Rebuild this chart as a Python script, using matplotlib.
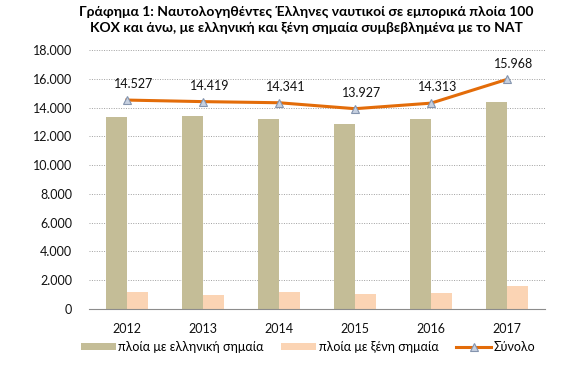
import numpy as np
import matplotlib.pyplot as plt
from matplotlib.ticker import FuncFormatter

years = ["2012", "2013", "2014", "2015", "2016", "2017"]
greek_flag = [13327, 13449, 13181, 12857, 13198, 14388]
foreign_flag = [1200, 970, 1160, 1070, 1115, 1580]
total = [14527, 14419, 14341, 13927, 14313, 15968]

labels = ["πλοία με ελληνική σημαία", "πλοία με ξένη σημαία", "Σύνολο"]
title = ("Γράφημα 1: Ναυτολογηθέντες Έλληνες ναυτικοί σε εμπορικά πλοία 100\n"
         "ΚΟΧ και άνω, με ελληνική και ξένη σημαία συμβεβλημένα με το ΝΑΤ")


def dotted_thousands(v, pos=None):
    return f"{int(round(v)):,}".replace(",", ".")


plt.rcParams["font.family"] = ["Lato", "DejaVu Sans"]

fig = plt.figure(figsize=(5.62, 3.66), dpi=100)
ax = fig.add_axes([0.158, 0.156, 0.812, 0.707])

x = np.arange(len(years))
w = 0.28
b1 = ax.bar(x - w / 2, greek_flag, w, color="#C4BD97", label=labels[0], zorder=2)
b2 = ax.bar(x + w / 2, foreign_flag, w, color="#FBD4B4", label=labels[1], zorder=2)
ln, = ax.plot(x, total, color="#E36C09", lw=2.2, marker="^", ms=6,
              mfc="#C6D0E0", mec="#8494AE", mew=0.8, label=labels[2], zorder=3)

for xi, v in zip(x, total):
    ax.annotate(dotted_thousands(v), (xi, v), xytext=(5, 7), textcoords="offset points",
                ha="center", va="bottom", fontsize=9, color="#111111")

ax.set_xlim(-0.5, len(years) - 0.5)
ax.set_ylim(0, 18000)
ax.set_yticks(np.arange(0, 18001, 2000))
ax.yaxis.set_major_formatter(FuncFormatter(dotted_thousands))
ax.set_xticks(x)
ax.set_xticklabels(years)
ax.tick_params(axis="both", length=0, labelsize=9, colors="#111111")
ax.tick_params(axis="x", pad=10)
ax.tick_params(axis="y", pad=12)
ax.grid(axis="y", linestyle=(0, (1, 1.5)), color="#A0A0A0", lw=0.7, zorder=0)
for s in ["left", "right", "top"]:
    ax.spines[s].set_visible(False)
ax.spines["bottom"].set_color("#8C8C8C")

fig.text(0.545, 0.985, title, ha="center", va="top", fontsize=10,
         fontweight="bold", linespacing=1.45)

fig.legend([b1, b2, ln], labels, loc="lower center", bbox_to_anchor=(0.548, 0.005),
           ncol=3, frameon=False, fontsize=9, handlelength=2.8, handleheight=0.6,
           handletextpad=0.2, columnspacing=1.4)

fig.savefig("out.png", dpi=100)
